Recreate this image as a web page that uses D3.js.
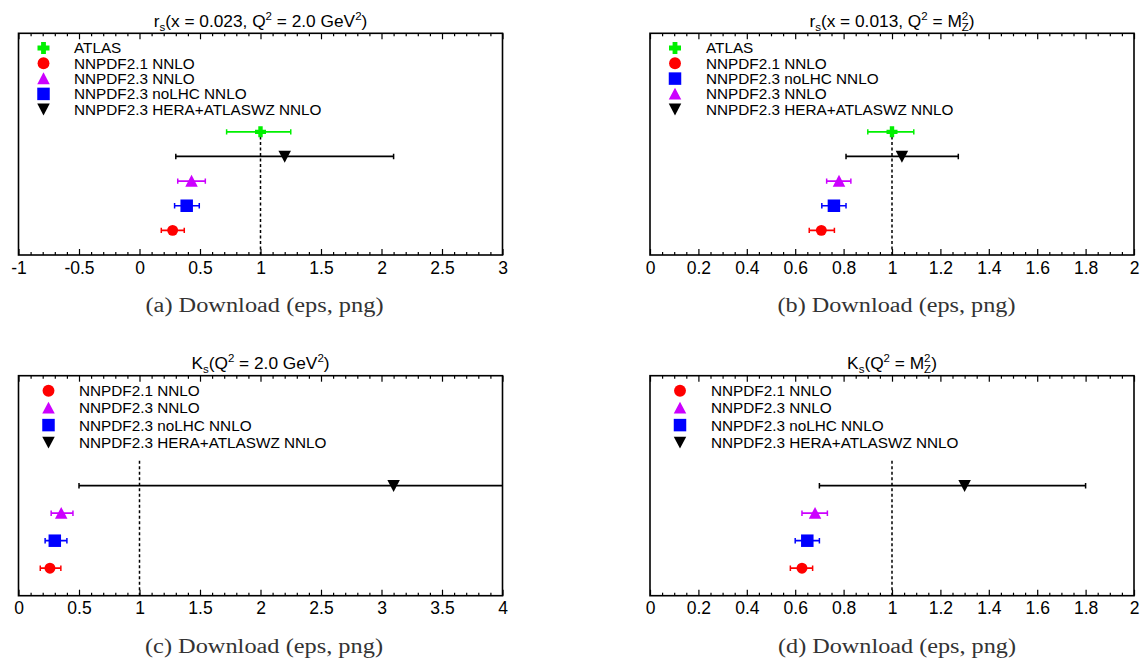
<!DOCTYPE html>
<html><head><meta charset="utf-8">
<script src="https://cdn.jsdelivr.net/npm/d3@7"></script>
<style>body{margin:0;background:#fff} svg{display:block}</style>
</head><body><svg id="chart" width="1146" height="666"></svg>
<script>
// ---- series (rows from bottom to top) ----
const seriesNames  = ["NNPDF2.1 NNLO", "NNPDF2.3 noLHC NNLO", "NNPDF2.3 NNLO", "NNPDF2.3 HERA+ATLASWZ NNLO", "ATLAS"];
const seriesColors = ["#ff0000", "#0000ff", "#cc00ff", "#000000", "#00f000"];
const seriesShapes = ["circle", "square", "triangleUp", "triangleDown", "cross"];

// (a) r_s(x = 0.023, Q^2 = 2.0 GeV^2)
const rsLowCentral = [0.274, 0.39, 0.43, 1.20, 1.00];
const rsLowLower   = [0.18, 0.29, 0.316, 0.30, 0.72];
const rsLowUpper   = [0.37, 0.494, 0.544, 2.10, 1.25];
const rsLowTicks   = [-1, -0.5, 0, 0.5, 1, 1.5, 2, 2.5, 3];
const rsLowLabels  = ["-1", "-0.5", "0", "0.5", "1", "1.5", "2", "2.5", "3"];
const rsLowLegend  = ["ATLAS", "NNPDF2.1 NNLO", "NNPDF2.3 NNLO", "NNPDF2.3 noLHC NNLO", "NNPDF2.3 HERA+ATLASWZ NNLO"];

// (b) r_s(x = 0.013, Q^2 = M_Z^2)
const rsMzCentral = [0.708, 0.76, 0.781, 1.041, 1.00];
const rsMzLower   = [0.658, 0.71, 0.73, 0.81, 0.90];
const rsMzUpper   = [0.762, 0.81, 0.83, 1.274, 1.09];
const rsMzTicks   = [0, 0.2, 0.4, 0.6, 0.8, 1, 1.2, 1.4, 1.6, 1.8, 2];
const rsMzLabels  = ["0", "0.2", "0.4", "0.6", "0.8", "1", "1.2", "1.4", "1.6", "1.8", "2"];
const rsMzLegend  = ["ATLAS", "NNPDF2.1 NNLO", "NNPDF2.3 noLHC NNLO", "NNPDF2.3 NNLO", "NNPDF2.3 HERA+ATLASWZ NNLO"];

// (c) K_s(Q^2 = 2.0 GeV^2)
const ksLowCentral = [0.26, 0.30, 0.353, 3.10];
const ksLowLower   = [0.18, 0.22, 0.27, 0.50];
const ksLowUpper   = [0.35, 0.40, 0.45, 5.70];
const ksLowTicks   = [0, 0.5, 1, 1.5, 2, 2.5, 3, 3.5, 4];
const ksLowLabels  = ["0", "0.5", "1", "1.5", "2", "2.5", "3", "3.5", "4"];
const ksLowLegend  = ["NNPDF2.1 NNLO", "NNPDF2.3 NNLO", "NNPDF2.3 noLHC NNLO", "NNPDF2.3 HERA+ATLASWZ NNLO"];

// (d) K_s(Q^2 = M_Z^2)
const ksMzCentral = [0.628, 0.65, 0.682, 1.30];
const ksMzLower   = [0.58, 0.60, 0.628, 0.70];
const ksMzUpper   = [0.672, 0.70, 0.733, 1.80];
const ksMzTicks   = [0, 0.2, 0.4, 0.6, 0.8, 1, 1.2, 1.4, 1.6, 1.8, 2];
const ksMzLabels  = ["0", "0.2", "0.4", "0.6", "0.8", "1", "1.2", "1.4", "1.6", "1.8", "2"];
const ksMzLegend  = ["NNPDF2.1 NNLO", "NNPDF2.3 NNLO", "NNPDF2.3 noLHC NNLO", "NNPDF2.3 HERA+ATLASWZ NNLO"];

const referenceValue = 1;
const captions = ["(a) Download (eps, png)", "(b) Download (eps, png)", "(c) Download (eps, png)", "(d) Download (eps, png)"];

// title pieces: [text, mode] mode: n normal, sub, sup, supsub (sup, sub stacked)
const titles = [
  [["r","n"],["s","sub"],["(x = 0.023, Q","n"],["2","sup"],[" = 2.0 GeV","n"],["2","sup"],[")","n"]],
  [["r","n"],["s","sub"],["(x = 0.013, Q","n"],["2","sup"],[" = M","n"],["2|Z","supsub"],[")","n"]],
  [["K","n"],["s","sub"],["(Q","n"],["2","sup"],[" = 2.0 GeV","n"],["2","sup"],[")","n"]],
  [["K","n"],["s","sub"],["(Q","n"],["2","sup"],[" = M","n"],["2|Z","supsub"],[")","n"]]
];

const panels = [
  {box:[18.5, 33.3, 502.5, 255], dom:[-1, 3], minor:0.1, c:rsLowCentral, lo:rsLowLower, hi:rsLowUpper, ticks:rsLowTicks, labels:rsLowLabels, legend:rsLowLegend,
   leg:{x0:43.5, tx:74, y0:48, dy:15.3}, cap:[264.5, 312]},
  {box:[650, 33.3, 1134, 255], dom:[0, 2], minor:0.05, c:rsMzCentral, lo:rsMzLower, hi:rsMzUpper, ticks:rsMzTicks, labels:rsMzLabels, legend:rsMzLegend,
   leg:{x0:675, tx:706, y0:48, dy:15.3}, cap:[896.5, 312]},
  {box:[18.5, 375.7, 502.5, 595.7], dom:[0, 4], minor:0.1, c:ksLowCentral, lo:ksLowLower, hi:ksLowUpper, ticks:ksLowTicks, labels:ksLowLabels, legend:ksLowLegend,
   leg:{x0:48.5, tx:79, y0:390.7, dy:17.2}, cap:[264, 652.5]},
  {box:[650, 375.7, 1134, 595.7], dom:[0, 2], minor:0.05, c:ksMzCentral, lo:ksMzLower, hi:ksMzUpper, ticks:ksMzTicks, labels:ksMzLabels, legend:ksMzLegend,
   leg:{x0:680, tx:711, y0:390.7, dy:17.2}, cap:[897, 652.5]}
];

const SANS = "'Liberation Sans', Arial, Helvetica, sans-serif";
const svg = d3.select("#chart");

function markerPath(shape, s) {
  const h = s / 2;
  switch (shape) {
    case "circle": { const p = d3.path(); p.arc(0, 0, h * 0.95, 0, 2 * Math.PI); p.closePath(); return p.toString(); }
    case "square": return `M${-h},${-h}H${h}V${h}H${-h}Z`;
    case "triangleUp": return `M0,${-h}L${h},${h * 0.9}L${-h},${h * 0.9}Z`;
    case "triangleDown": return `M0,${h}L${h},${-h * 0.9}L${-h},${-h * 0.9}Z`;
    case "cross": { const a = h, t = s * 0.2;
      return `M${-t},${-a}H${t}V${-t}H${a}V${t}H${t}V${a}H${-t}V${t}H${-a}V${-t}H${-t}Z`; }
  }
}

panels.forEach((P, pi) => {
  const [x0, y0, x1, y1] = P.box;
  const n = P.c.length;
  const x = d3.scaleLinear().domain(P.dom).range([x0, x1]);
  const y = d3.scaleLinear().domain([0, n + 4]).range([y1, y0]);
  const g = svg.append("g");

  const clipId = "clip" + pi;
  svg.append("clipPath").attr("id", clipId).append("rect")
    .attr("x", x0).attr("y", y0).attr("width", x1 - x0).attr("height", y1 - y0);

  // minor ticks
  const minorVals = d3.range(P.dom[0], P.dom[1] + 1e-9, P.minor).map(v => +v.toFixed(6))
    .filter(v => !P.ticks.some(t => Math.abs(t - v) < 1e-6));
  const bMinor = g.append("g").attr("transform", `translate(0,${y1})`)
    .call(d3.axisBottom(x).tickValues(minorVals).tickSize(-3).tickFormat(""));
  const tMinor = g.append("g").attr("transform", `translate(0,${y0})`)
    .call(d3.axisTop(x).tickValues(minorVals).tickSize(-3).tickFormat(""));
  const bMajor = g.append("g").attr("transform", `translate(0,${y1})`)
    .call(d3.axisBottom(x).tickValues(P.ticks).tickSize(-6).tickFormat((d, i) => P.labels[i]));
  const tMajor = g.append("g").attr("transform", `translate(0,${y0})`)
    .call(d3.axisTop(x).tickValues(P.ticks).tickSize(-6).tickFormat(""));
  [bMinor, tMinor, bMajor, tMajor].forEach(a => {
    a.select(".domain").remove();
    a.selectAll(".tick line").attr("stroke", "#000").attr("stroke-width", 1.2);
  });
  bMajor.selectAll(".tick text").attr("y", 18.7).attr("dy", null)
    .attr("font-family", SANS).attr("font-size", 17.5).attr("fill", "#000");

  // frame
  g.append("rect").attr("x", x0).attr("y", y0).attr("width", x1 - x0).attr("height", y1 - y0)
    .attr("fill", "none").attr("stroke", "#000").attr("stroke-width", 1.6);

  // reference dashed line
  g.append("line").attr("x1", x(referenceValue)).attr("x2", x(referenceValue))
    .attr("y1", y(0)).attr("y2", y(5))
    .attr("stroke", "#000").attr("stroke-width", 1.5).attr("stroke-dasharray", "3,2.5");

  // error bars + markers
  const data = P.c.map((v, i) => ({v, lo: P.lo[i], hi: P.hi[i], row: i + 1, i}));
  const eb = g.append("g").attr("clip-path", `url(#${clipId})`);
  data.forEach(d => {
    const col = seriesColors[d.i], yy = y(d.row);
    eb.append("line").attr("x1", x(d.lo)).attr("x2", x(d.hi)).attr("y1", yy).attr("y2", yy)
      .attr("stroke", col).attr("stroke-width", 1.7);
    [d.lo, d.hi].forEach(e => eb.append("line").attr("x1", x(e)).attr("x2", x(e))
      .attr("y1", yy - 2.7).attr("y2", yy + 2.7).attr("stroke", col).attr("stroke-width", 1.5));
  });
  g.selectAll("path.mk").data(data).join("path").attr("class", "mk")
    .attr("d", d => markerPath(seriesShapes[d.i], seriesShapes[d.i] === "cross" ? 11 : (seriesShapes[d.i] === "circle" ? 11.5 : 12.5)))
    .attr("transform", d => `translate(${x(d.v)},${y(d.row)})`)
    .attr("fill", d => seriesColors[d.i]);

  // legend
  P.legend.forEach((name, k) => {
    const si = seriesNames.indexOf(name);
    const ly = P.leg.y0 + k * P.leg.dy;
    g.append("path").attr("d", markerPath(seriesShapes[si], seriesShapes[si] === "cross" ? 12 : 12.5))
      .attr("transform", `translate(${P.leg.x0},${ly})`).attr("fill", seriesColors[si]);
    g.append("text").attr("x", P.leg.tx).attr("y", ly + 5.4)
      .attr("font-family", SANS).attr("font-size", 15.3).attr("fill", "#000").text(name);
  });

  // title
  const tt = g.append("text").attr("x", (x0 + x1) / 2).attr("y", y0 - 6.3)
    .attr("text-anchor", "middle").attr("font-family", SANS).attr("font-size", 17.3).attr("fill", "#000");
  let shift = 0;
  titles[pi].forEach(([txt, mode]) => {
    if (mode === "n") { tt.append("tspan").attr("dy", -shift).text(txt); shift = 0; }
    else if (mode === "sub") { tt.append("tspan").attr("dy", 4 - shift).attr("font-size", 11.5).text(txt); shift = 4; }
    else if (mode === "sup") { tt.append("tspan").attr("dy", -7 - shift).attr("font-size", 11.5).text(txt); shift = -7; }
    else if (mode === "supsub") {
      const [a, b] = txt.split("|");
      tt.append("tspan").attr("dy", -7 - shift).attr("font-size", 11.5).text(a);
      tt.append("tspan").attr("dx", -6.4).attr("dy", 11).attr("font-size", 11.5).text(b);
      shift = 4;
    }
  });

  // caption
  svg.append("text").attr("x", P.cap[0]).attr("y", P.cap[1]).attr("text-anchor", "middle")
    .attr("font-family", "'Liberation Serif', 'Times New Roman', serif").attr("font-size", 20.5)
    .attr("fill", "#333").attr("textLength", 238).attr("lengthAdjust", "spacingAndGlyphs")
    .text(captions[pi]);
});
</script></body></html>
